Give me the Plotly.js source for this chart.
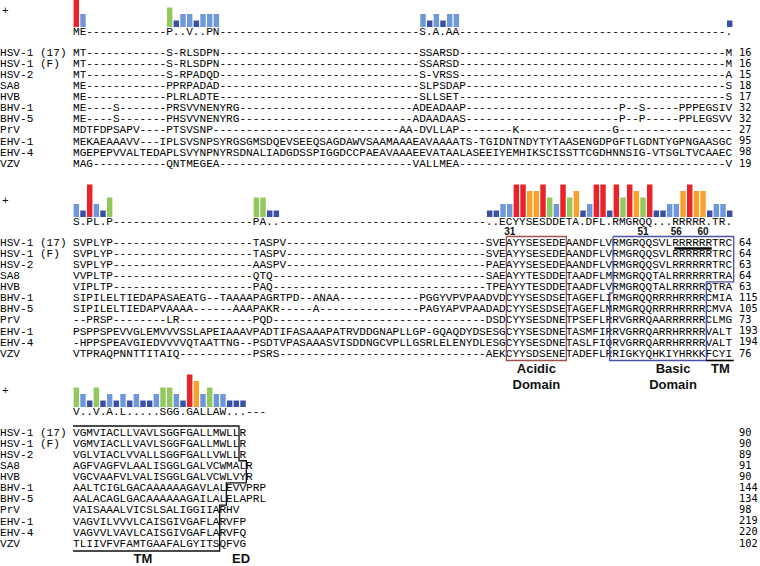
<!DOCTYPE html>
<html><head><meta charset="utf-8">
<script src="https://cdn.plot.ly/plotly-3.0.1.min.js"></script>
<style>html,body{margin:0;padding:0;background:#fff}#chart{width:760px;height:566px}</style>
</head><body><div id="chart"></div>
<script>
const D = n => '-'.repeat(n);

// ---------- data ----------
const names = ["HSV-1 (17)","HSV-1 (F)","HSV-2","SA8","HVB","BHV-1","BHV-5","PrV","EHV-1","EHV-4","VZV"];

const consensus1 = "ME"+D(12)+"P..V..PN"+D(30)+"S.A.AA"+D(40)+".";
const levels1 = [5,2, 3,1,2,2,1,2,2,2, 2,1,2,1,2,2, 1];
const block1 = [
  "MT"+D(12)+"S-RLSDPN"+D(30)+"SSARSD"+D(40)+"M",
  "MT"+D(12)+"S-RLSDPN"+D(30)+"SSARSD"+D(40)+"M",
  "MT"+D(12)+"S-RPADQD"+D(30)+"S-VRSS"+D(40)+"A",
  "ME"+D(12)+"PPRPADAD"+D(30)+"SLPSDAP"+D(39)+"S",
  "ME"+D(12)+"PLRLADTE"+D(30)+"SLLSET"+D(40)+"S",
  "ME----S-------"+"PRSVVNENYRG"+D(26)+"ADEADAAP"+D(23)+"P--S-----PPPEGSIV",
  "ME----S-------"+"PHSVVNENYRG"+D(26)+"ADAADAAS"+D(23)+"P--P-----PPLEGSVV",
  "MDTFDPSAPV----"+"PTSVSNP"+D(28)+"AA-DVLLAP"+D(8)+"K"+D(14)+"G"+D(17),
  "MEKAEAAAVV---IPLSVSNPSYRGSGMSDQEVSEEQSAGDAWVSAAMAAAEAVAAAATS-TGIDNTNDYTYTAASENGDPGFTLGDNTYGPNGAASGC",
  "MGEPEPVVALTEDAPLSVYNPNYRSDNALIADGDSSPIGGDCCPAEAVAAAEEVATAALASEEIYEMHIKSCISSTTCGDHNNSIG-VTSGLTVCAAEC",
  "MAG"+D(11)+"QNTMEGEA"+D(29)+"VALLMEA"+D(40)+"V"
];
const ends1 = [16,16,15,18,17,32,32,27,95,98,19];

const consensus2 = "S.PL.P"+D(21)+"PA.."+D(31)+"..ECYYSESDDETA.DFL.RMGRQQ...RRRRR.TR.";
const levels2 = [2,1,5,2,1,3, 3,3,1,1,
  1,1,2,2,5,5,4,4,5,3,2,5,3,4,1,2,5,5,1,5,3,5,4,3,5,1,1,2,2,4,5,4,4,1,2,2,1];
const block2 = [
  "SVPLYP"+D(21)+"TASPV"+D(30)+"SVEAYYSESEDEAANDFLVRMGRQQSVLRRRRRRTRC",
  "SVPLYP"+D(21)+"TASPV"+D(30)+"SVEAYYSESEDEAANDFLVRMGRQQSVLRRRRRRTRC",
  "SVPLYP"+D(21)+"AASPV"+D(30)+"PAEAYYSESEDEAANDFLVRMGRQQSVLRRRRRRTRC",
  "VVPLTP"+D(21)+"QTQ"+D(32)+"SAEAYYTESDDETAADFLMRMGRQQTALRRRRRRTRA",
  "VIPLTP"+D(21)+"PAQ"+D(32)+"TPEAYYTESDDETAADFLVRMGRQQTALRRRRRQTRA",
  "SIPILELTIEDAPASAEATG--TAAAAPAGRTPD--ANAA"+D(12)+"PGGYVPVPAADVDCYYSESDSETAGEFLIRMGRQQRRRHRRRRCMIA",
  "SIPILELTIEDAPVAAAA------AAAPAKR-----A"+D(15)+"PAGYAPVPAADADCYYSESDSETAGEFLMRMGRQQRRRHRRRRCMVA",
  "--PRSP--------LR"+D(11)+"PQD"+D(32)+"DSDCYYSESDNETPSEFLRRVGRRQAARRRRRRCLMG",
  "PSPPSPEVVGLEMVVVSSLAPEIAAAVPADTIFASAAAPATRVDDGNAPLLGP-GQAQDYDSESGCYYSESDNETASMFIRRVGRRQARRHRRRRVALT",
  "-HPPSPEAVGIEDVVVVQTAATTNG--PSDTVPASAAASVISDDNGCVPLLGSRLELENYDLESGCYYSESDNETASLFIQRVGRRQARRHRRRRVALT",
  "VTPRAQPNNTTITAIQ"+D(11)+"PSRS"+D(31)+"AEKCYYSDSENETADEFLRRIGKYQHKIYHRKKFCYI"
];
const ends2 = [64,64,63,64,63,115,105,73,193,194,76];
const markers2 = ["31","51","56","60"];
const markerCols2 = [65,85,90,94];

const consensus3 = "V..V.A.L.....SGG.GALLAW...---";
const levels3 = [3,2,1,3,1,2,1,2,1,2,1,1,2,3,3,2,1,5,4,2,3,2,2,1,1,1];
const block3 = [
  "VGMVIACLLVAVLSGGFGALLMWLLR",
  "VGMVIACLLVAVLSGGFGALLMWLLR",
  "VGLVIACLVVALLSGGFGALLVWLLR",
  "AGFVAGFVLAALISGGLGALVCWMALR",
  "VGCVAAFVLVALISGGLGALVCWLVYR",
  "AALTCIGLGACAAAAAAGAVLALEVVPRP",
  "AALACAGLGACAAAAAAGAILALELAPRL",
  "VAISAAALVICSLSALIGGIIARHV",
  "VAGVILVVVLCAISGIVGAFLARVFP",
  "VAGVVLVAVLCAISGIVGAFLARVFQ",
  "TLIIVFVFAMTGAAFALGYITSQFVG"
];
const ends3 = [90,90,89,91,90,144,134,98,219,220,102];

// ---------- layout constants ----------
const W = 760, H = 566;
const CW = 6.667;          // px per residue column
const X0 = 73;             // px of column 0
const BLOCK = 190;         // block pitch (px)
const ROW = 11.1;          // row pitch (px)
const UNIT = 6.5;          // px per conservation level
const colors = {1:'#3a4fa6',2:'#6f98db',3:'#93c85c',4:'#f8a12c',5:'#e8232a'};
const mono = "Liberation Mono, Courier New, monospace";
const txtColor = '#000';
const pxToCol = p => (p - X0) / CW;
const rowY = (b, i) => 53 + BLOCK*b + i*ROW;
const consY = b => 32 + BLOCK*b;
const baseY = b => 27 + BLOCK*b;

const traces = [];
const blocks = [
  {cons: consensus1, lv: levels1, rows: block1, ends: ends1},
  {cons: consensus2, lv: levels2, rows: block2, ends: ends2},
  {cons: consensus3, lv: levels3, rows: block3, ends: ends3}
];

blocks.forEach((bk, b) => {
  const bx = [], bh = [], bc = [];
  let k = 0;
  for (let c = 0; c < bk.cons.length; c++) {
    if (bk.cons[c] === '-') continue;
    const l = bk.lv[k++];
    if (!l) continue;
    bx.push(c + 0.5); bh.push(-l*UNIT); bc.push(colors[l]);
  }
  traces.push({type:'bar', x:bx, y:bh, base:baseY(b), width:0.82,
    marker:{color:bc, line:{width:0}}, hoverinfo:'skip'});
  traces.push({type:'scatter', mode:'text', x:[pxToCol(2)], y:[baseY(b)-16], text:['+'],
    textposition:'middle right', textfont:{family:mono, size:11.1, color:txtColor}, hoverinfo:'skip'});
  traces.push({type:'scatter', mode:'text', x:[0], y:[consY(b)], text:[bk.cons],
    textposition:'middle right', textfont:{family:mono, size:11.1, color:txtColor}, hoverinfo:'skip'});
  traces.push({type:'scatter', mode:'text', x:bk.rows.map(()=>0), y:bk.rows.map((r,i)=>rowY(b,i)),
    text:bk.rows, textposition:'middle right',
    textfont:{family:mono, size:11.1, color:txtColor}, hoverinfo:'skip'});
  traces.push({type:'scatter', mode:'text', x:names.map(()=>pxToCol(0)), y:names.map((r,i)=>rowY(b,i)),
    text:names, textposition:'middle right',
    textfont:{family:mono, size:11.1, color:txtColor}, hoverinfo:'skip'});
  traces.push({type:'scatter', mode:'text', x:bk.ends.map(()=>pxToCol(739)), y:bk.ends.map((r,i)=>rowY(b,i)),
    text:bk.ends.map(String), textposition:'middle right',
    textfont:{family:"DejaVu Sans Mono, monospace", size:10.3, color:txtColor}, hoverinfo:'skip'});
});

// ---------- block 2 annotations ----------
const top2 = rowY(1,0) - 6.5, bot2 = rowY(1,10) + 6.5;
const mid2 = i => rowY(1,i) + ROW/2;
traces.push({type:'scatter', mode:'text', x:markerCols2.map(c=>c+0.5), y:markerCols2.map(()=>consY(1)+10.5),
  text:markers2, textposition:'middle center',
  textfont:{family:"Liberation Sans, Arial, sans-serif", size:10, color:'#111', weight:'bold'}, hoverinfo:'skip'});
traces.push({type:'scatter', mode:'lines', x:[90.2, 95.8], y:[rowY(1,0)+5.5, rowY(1,0)+5.5],
  line:{color:'#000', width:2.6}, hoverinfo:'skip'});
traces.push({type:'scatter', mode:'lines', x:[65,74,74,65,65], y:[top2,top2,bot2,bot2,top2],
  line:{color:'#a0514c', width:1.3}, hoverinfo:'skip'});
traces.push({type:'scatter', mode:'lines',
  x:[81,99.1,99.1,95,95,80.5,80.5,81,81],
  y:[top2,top2,mid2(3),mid2(3),bot2,bot2,mid2(4),mid2(4),top2],
  line:{color:'#4c4fa6', width:1.3}, hoverinfo:'skip'});
traces.push({type:'scatter', mode:'lines', x:[95,99.1], y:[bot2, bot2],
  line:{color:'#000', width:1.6}, hoverinfo:'skip'});
const lblFont = {family:"Liberation Sans, Arial, sans-serif", size:13, color:'#111', weight:'bold'};
traces.push({type:'scatter', mode:'text',
  x:[69.5, 69.5, 90, 90, 97.1],
  y:[rowY(1,10)+16, rowY(1,10)+32, rowY(1,10)+16, rowY(1,10)+32, rowY(1,10)+16],
  text:["Acidic","Domain","Basic","Domain","TM"], textposition:'middle center',
  textfont:lblFont, hoverinfo:'skip'});

// ---------- block 3 TM box ----------
const top3 = rowY(2,0) - 7, bot3 = rowY(2,10) + 7;
const mid3 = i => rowY(2,i) + ROW/2;
traces.push({type:'scatter', mode:'lines',
  x:[0, 24.9, 24.9, 26, 26, 23, 23, 22, 22, 0],
  y:[top3, top3, mid3(2), mid3(2), mid3(4), mid3(4), mid3(6), mid3(6), bot3, bot3],
  line:{color:'#111', width:1.3}, hoverinfo:'skip'});
traces.push({type:'scatter', mode:'text', x:[10.5, 25.2], y:[rowY(2,10)+15.5, rowY(2,10)+15.5],
  text:["TM","ED"], textposition:'middle center', textfont:lblFont, hoverinfo:'skip'});

const layout = {
  width: W, height: H,
  margin: {l:0, r:0, t:0, b:0, pad:0},
  paper_bgcolor: '#fff', plot_bgcolor: '#fff',
  showlegend: false, barmode: 'overlay',
  xaxis: {range:[pxToCol(0), pxToCol(W)], visible:false, fixedrange:true},
  yaxis: {range:[H, 0], visible:false, fixedrange:true}
};
Plotly.newPlot('chart', traces, layout, {staticPlot:true, displayModeBar:false});
</script>
</body></html>
